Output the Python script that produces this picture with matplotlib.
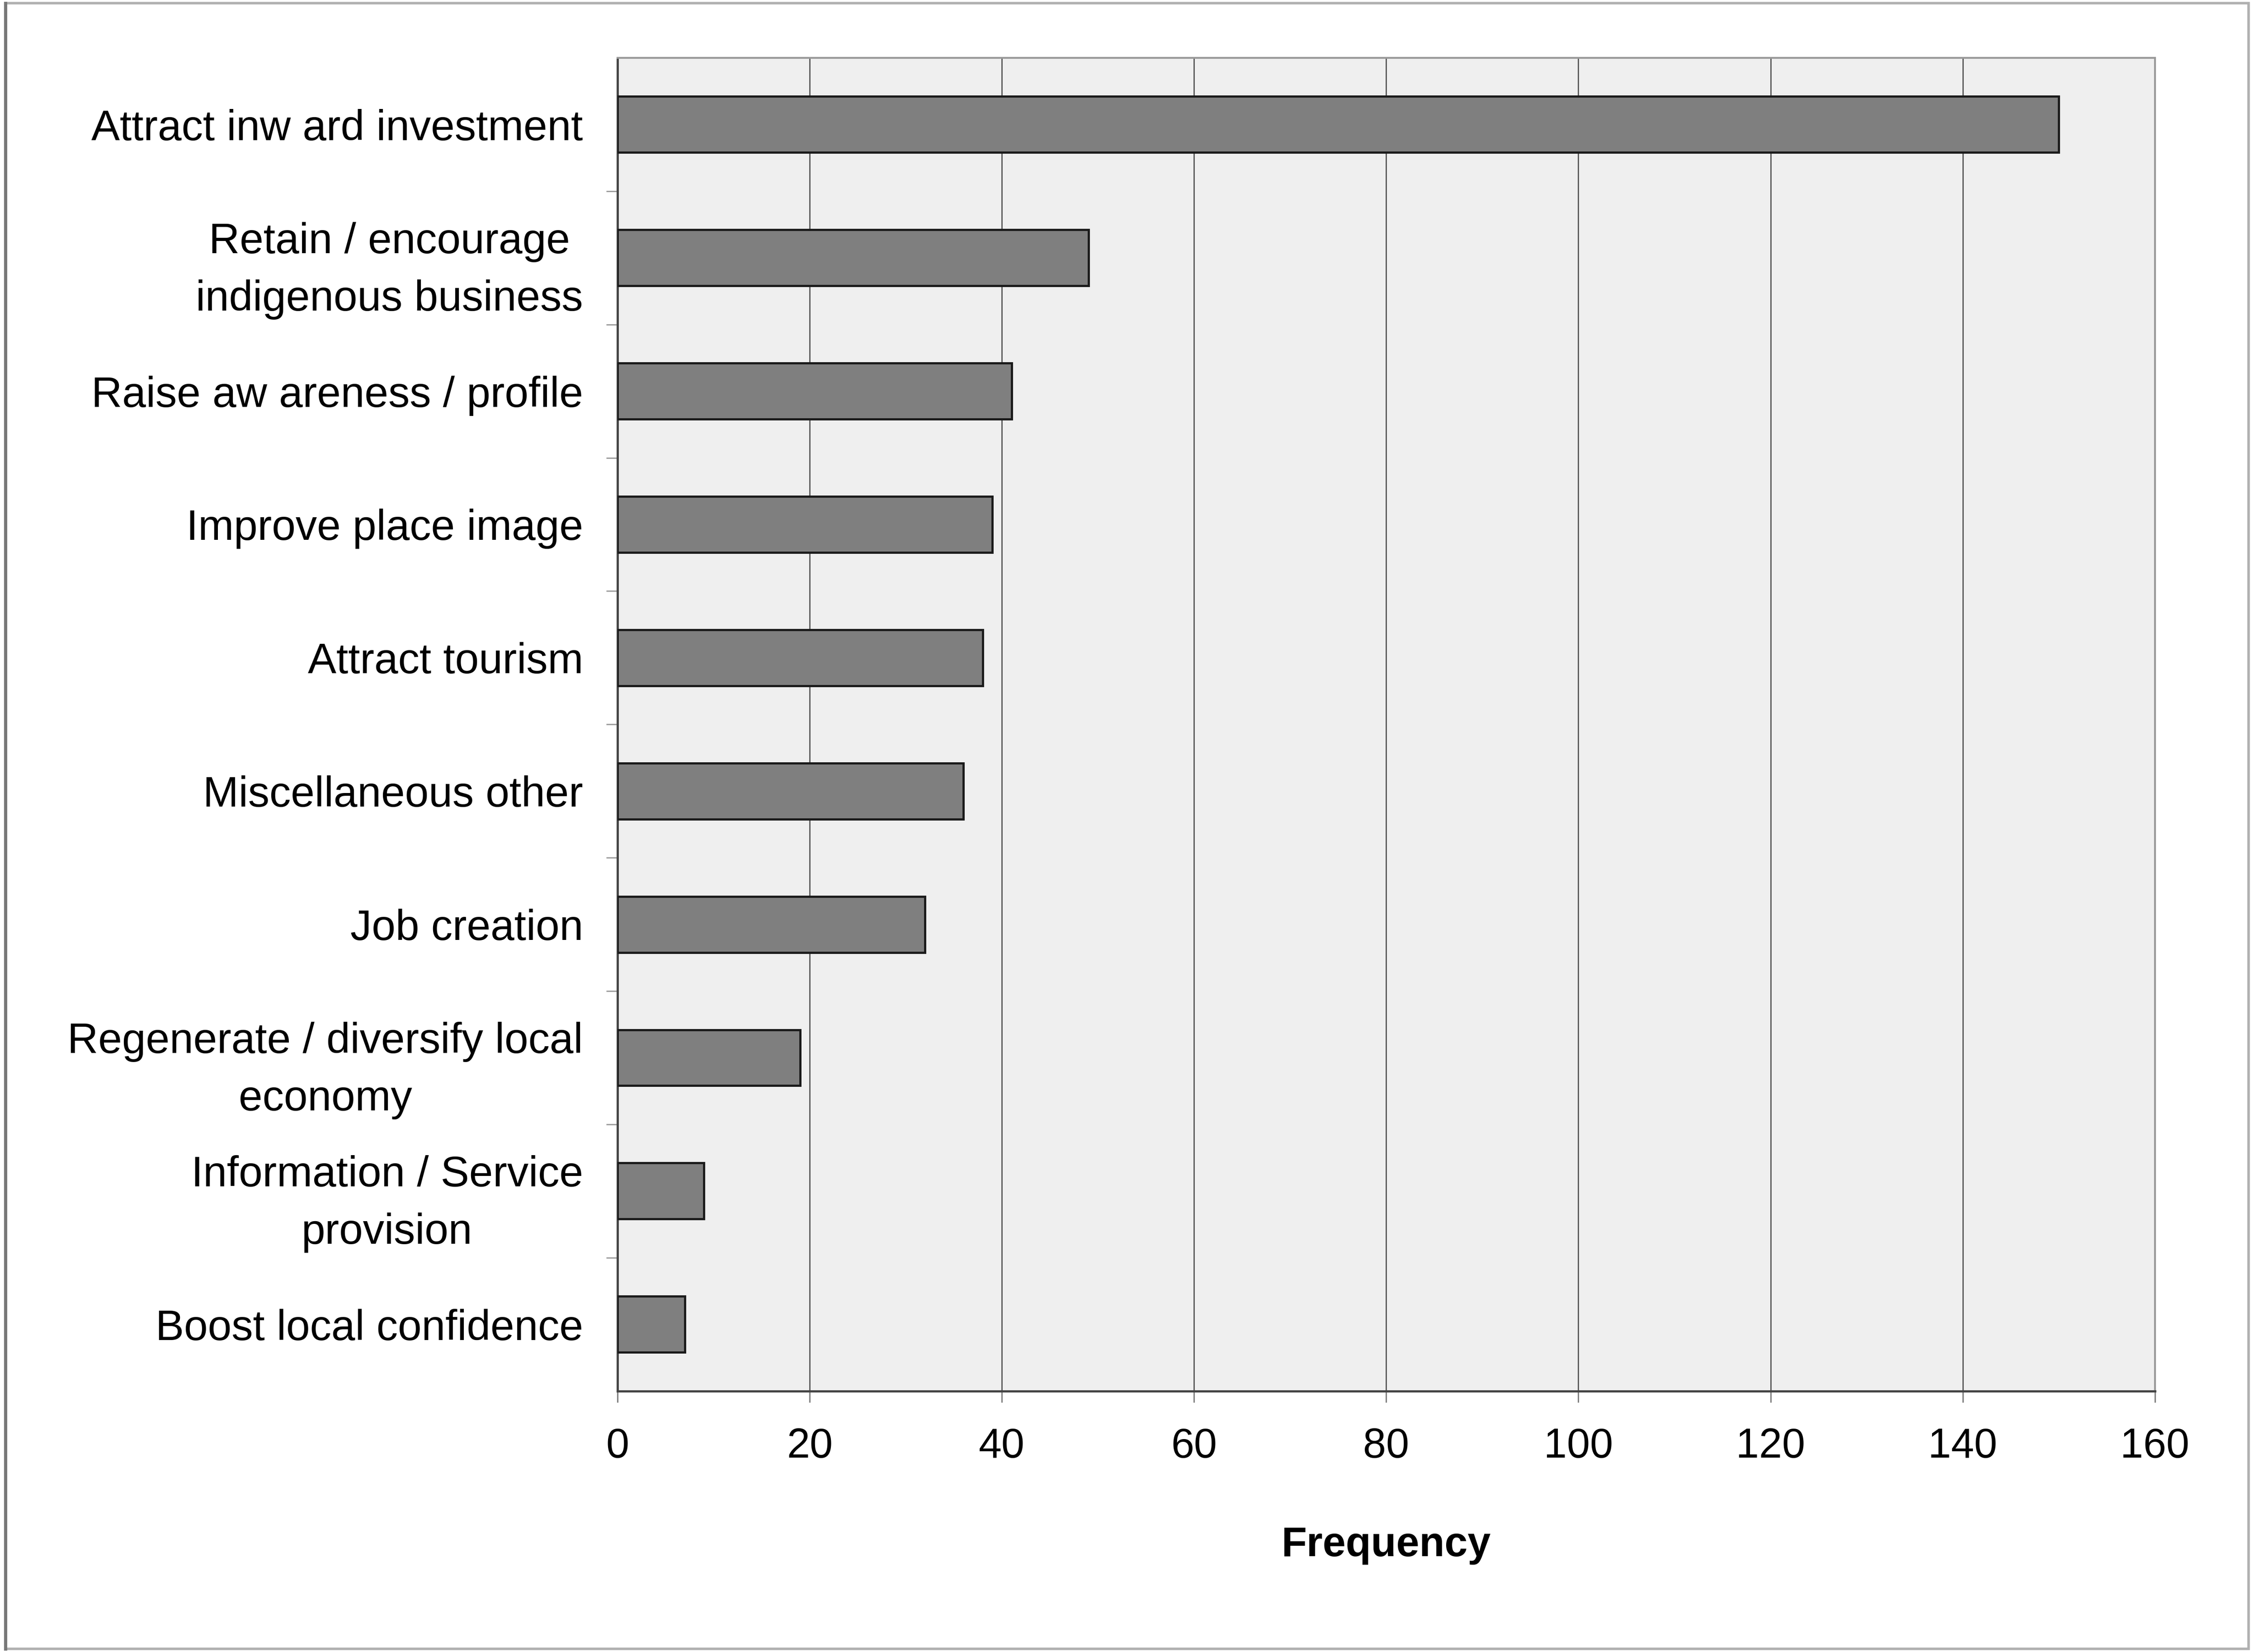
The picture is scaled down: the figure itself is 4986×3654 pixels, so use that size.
import matplotlib.pyplot as plt
from matplotlib.patches import Rectangle

# survey responses: objectives of place marketing
objectives = [
    "Attract inw ard investment",
    "Retain / encourage\nindigenous business",
    "Raise aw areness / profile",
    "Improve place image",
    "Attract tourism",
    "Miscellaneous other",
    "Job creation",
    "Regenerate / diversify local\neconomy",
    "Information / Service\nprovision",
    "Boost local confidence",
]
frequency = [150, 49, 41, 39, 38, 36, 32, 19, 9, 7]
x_ticks = [0, 20, 40, 60, 80, 100, 120, 140, 160]

plt.rcParams["font.family"] = ["Liberation Sans", "DejaVu Sans"]

fig = plt.figure(figsize=(49.86, 36.54), dpi=100)
ax = fig.add_axes([0.274, 0.158, 0.682, 0.807])
ax.set_facecolor("#efefef")

pos = list(range(len(objectives)))
ax.barh(pos, frequency, height=0.42, color="#7f7f7f", edgecolor="#1a1a1a", linewidth=3.5, zorder=3)

ax.set_xlim(0, 160)
ax.set_ylim(len(objectives) - 0.5, -0.5)
ax.set_xticks(x_ticks)
ax.set_xticklabels([str(t) for t in x_ticks], fontsize=66)
ax.xaxis.grid(True, color="#555555", linewidth=2, zorder=1)
ax.tick_params(axis="x", length=18, width=2, color="#777777", pad=40)

# category labels, ticks sit on category boundaries
ax.set_yticks(pos)
ax.set_yticklabels(objectives, fontsize=68, multialignment="center", linespacing=1.55)
ax.tick_params(axis="y", length=0, pad=55)
ax.set_yticks([p + 0.5 for p in pos[:-1]], minor=True)
ax.tick_params(axis="y", which="minor", length=18, width=2, color="#999999")

for side in ["left", "bottom"]:
    ax.spines[side].set_color("#444444")
    ax.spines[side].set_linewidth(3.5)
for side in ["top", "right"]:
    ax.spines[side].set_color("#999999")
    ax.spines[side].set_linewidth(3)

ax.set_xlabel("Frequency", fontsize=66, fontweight="bold", labelpad=95)

# outer frame
fig.patches.append(Rectangle((0.0025, 0.002), 0.995, 0.996, transform=fig.transFigure,
                             fill=False, edgecolor="#b0b0b0", linewidth=4))
fig.add_artist(plt.Line2D([0.0025, 0.0025], [0.002, 0.998], transform=fig.transFigure,
                          color="#777777", linewidth=5))

fig.savefig("out.png", dpi=100, facecolor="white")
